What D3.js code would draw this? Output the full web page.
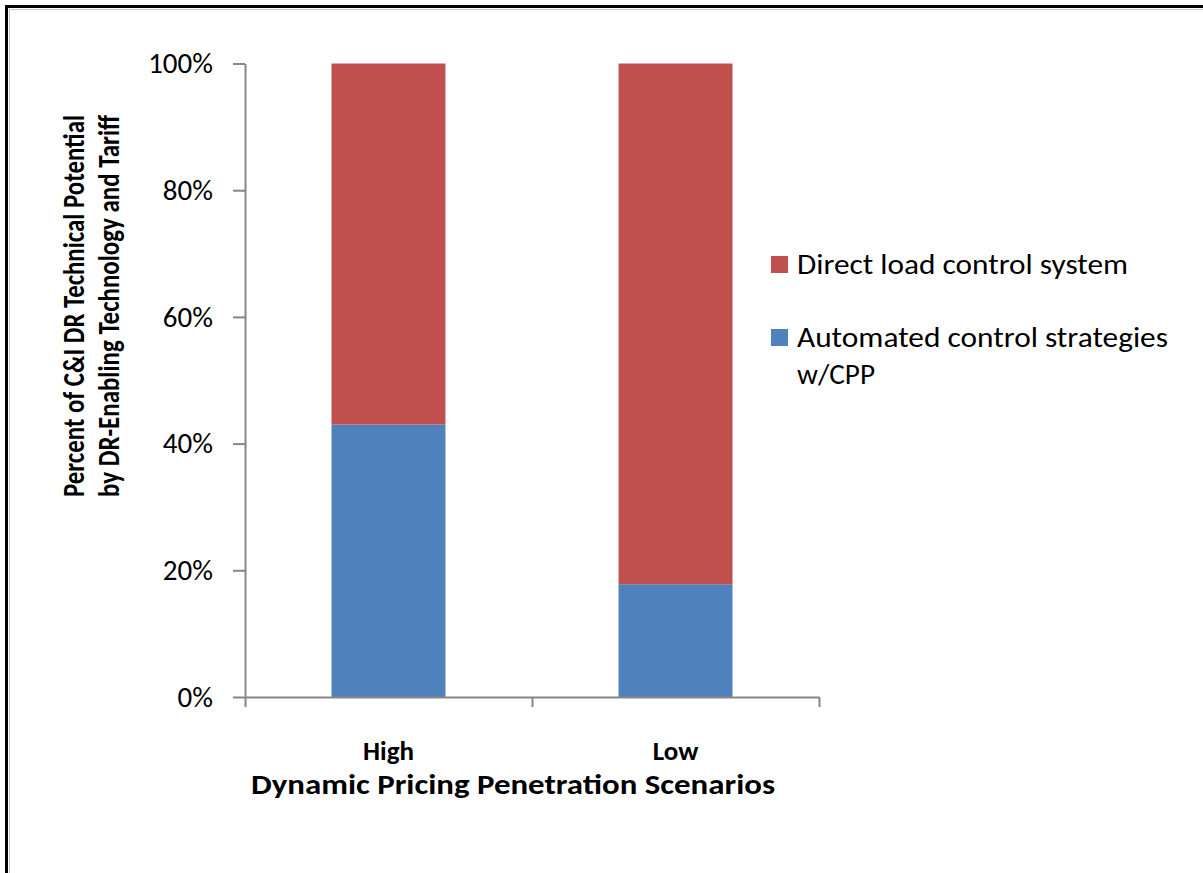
<!DOCTYPE html>
<html><head><meta charset="utf-8">
<script src="https://cdn.jsdelivr.net/npm/d3@7"></script>
<style>html,body{margin:0;padding:0;background:#fff;} svg{display:block;}</style>
</head>
<body>
<svg id="chart" width="1203" height="873"></svg>
<script>
// ---- data ----
const categories = ["High", "Low"];
const automatedCPP = [0.43, 0.178];
const directLoad = [0.57, 0.822];
const seriesNames = ["Automated control strategies w/CPP", "Direct load control system"];
const seriesColors = ["#4F81BD", "#C0504D"];
const yTickValues = [0, 0.2, 0.4, 0.6, 0.8, 1.0];
const xTitle = "Dynamic Pricing Penetration Scenarios";
const yTitleLines = ["Percent of C&I DR Technical Potential", "by DR-Enabling Technology and Tariff"];

const FONT = "Carlito, Calibri, Lato, 'Open Sans', sans-serif";
const svg = d3.select("#chart");

// frame
svg.append("rect").attr("x", 6.5).attr("y", 6.5).attr("width", 1400).attr("height", 1000)
  .attr("fill", "none").attr("stroke", "#000").attr("stroke-width", 3);
svg.append("rect").attr("x", 9.5).attr("y", 9.5).attr("width", 1400).attr("height", 1000)
  .attr("fill", "none").attr("stroke", "#c8c8c8").attr("stroke-width", 1);

const plot = {left: 245, right: 819, top: 63.5, bottom: 697};

const x = d3.scaleBand().domain(categories).range([plot.left, plot.right])
  .paddingInner(0.603).paddingOuter(0.3015);
const y = d3.scaleLinear().domain([0, 1]).range([plot.bottom, plot.top]);

// stacked data
const rows = categories.map((c, i) => ({cat: c, a: automatedCPP[i], d: directLoad[i]}));
const stack = d3.stack().keys(["a", "d"])(rows);

const g = svg.append("g");
g.selectAll("g.series").data(stack).join("g")
  .attr("fill", (s, i) => seriesColors[i])
  .selectAll("rect").data(s => s).join("rect")
  .attr("x", d => x(d.data.cat))
  .attr("width", x.bandwidth())
  .attr("y", d => y(d[1]))
  .attr("height", d => y(d[0]) - y(d[1]));

// y axis
const yAxis = svg.append("g").attr("transform", `translate(${plot.left},0)`)
  .call(d3.axisLeft(y).tickValues(yTickValues).tickFormat(d3.format(".0%"))
    .tickSize(12).tickSizeOuter(0).tickPadding(20));
yAxis.selectAll("path,line").attr("stroke", "#868686").attr("stroke-width", 2);
yAxis.selectAll("text").attr("font-family", FONT).attr("font-size", 29).attr("fill", "#000");

// x axis line + ticks at band boundaries
const xb = d3.scaleLinear().domain([0, categories.length]).range([plot.left, plot.right]);
const xAxis = svg.append("g").attr("transform", `translate(0,${plot.bottom})`)
  .call(d3.axisBottom(xb).tickValues(d3.range(categories.length + 1)).tickFormat("")
    .tickSize(10).tickSizeOuter(0));
xAxis.selectAll("path,line").attr("stroke", "#868686").attr("stroke-width", 2);

// category labels
svg.append("g").selectAll("text").data(categories).join("text")
  .attr("x", d => x(d) + x.bandwidth() / 2)
  .attr("y", 760)
  .attr("text-anchor", "middle")
  .attr("font-family", FONT).attr("font-size", 27).attr("font-weight", "bold")
  .text(d => d);

// x title
svg.append("text").attr("x", 513).attr("y", 794).attr("text-anchor", "middle")
  .attr("font-family", FONT).attr("font-size", 28).attr("font-weight", "bold")
  .attr("textLength", 524).attr("lengthAdjust", "spacingAndGlyphs")
  .text(xTitle);

// y title
const yt = svg.append("g").attr("transform", "translate(0,306) rotate(-90)");
yt.selectAll("text").data(yTitleLines).join("text")
  .attr("x", 0).attr("y", (d, i) => 84 + i * 35)
  .attr("text-anchor", "middle")
  .attr("font-family", FONT).attr("font-size", 30).attr("font-weight", "bold")
  .attr("textLength", 382).attr("lengthAdjust", "spacingAndGlyphs")
  .text(d => d);

// legend (Direct load on top)
const legendItems = [
  {color: seriesColors[1], lines: ["Direct load control system"], y: 256, w: [331]},
  {color: seriesColors[0], lines: ["Automated control strategies", "w/CPP"], y: 329, w: [371, 78]}
];
const lg = svg.append("g");
legendItems.forEach(it => {
  lg.append("rect").attr("x", 771).attr("y", it.y).attr("width", 17).attr("height", 17).attr("fill", it.color);
  it.lines.forEach((ln, j) => {
    lg.append("text").attr("x", 797).attr("y", it.y + 18 + j * 37)
      .attr("font-family", FONT).attr("font-size", 29)
      .attr("textLength", it.w[j]).attr("lengthAdjust", "spacingAndGlyphs")
      .text(ln);
  });
});
</script>
</body></html>
